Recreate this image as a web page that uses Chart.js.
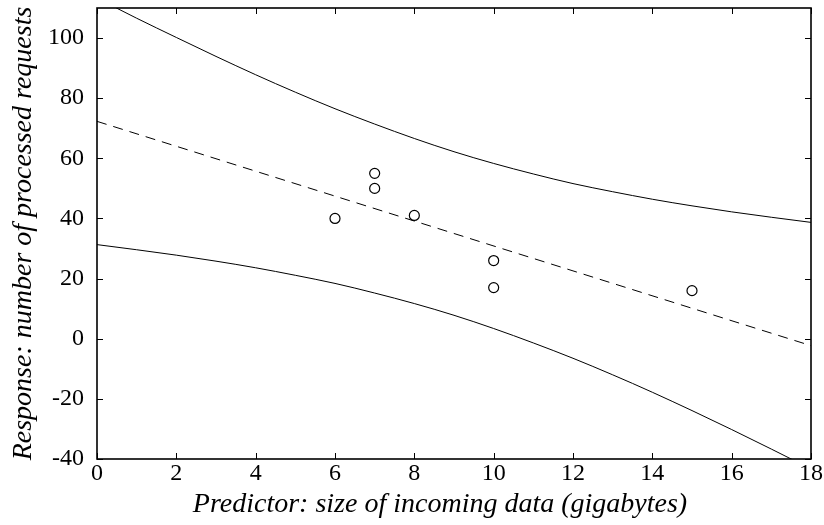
<!DOCTYPE html>
<html>
<head>
<meta charset="utf-8">
<title>Prediction interval</title>
<script src="https://cdn.jsdelivr.net/npm/chart.js@4.4.0/dist/chart.umd.min.js"></script>
<style>
  html, body { margin: 0; padding: 0; background: #fff; }
</style>
</head>
<body>
<canvas id="regressionChart" width="824" height="525"></canvas>
<script>
// observed data
const sizeGb = [6, 7, 7, 8, 10, 10, 15];
const requests = [40, 55, 50, 41, 26, 17, 16];

// fitted line end points
const fitX = [0, 18];
const fitY = [72.3, -2.3];

// 95% prediction band, sampled at each gigabyte
const bandX = [0, 1, 2, 3, 4, 5, 6, 7, 8, 9, 10, 11, 12, 13, 14, 15, 16, 17, 18];
const upperBand = [113.3, 106.6, 100.2, 93.9, 87.8, 82.0, 76.5, 71.4, 66.6, 62.2, 58.3, 54.8, 51.6, 48.9, 46.4, 44.2, 42.2, 40.4, 38.7];
const lowerBand = [31.3, 29.6, 27.8, 25.8, 23.6, 21.1, 18.4, 15.2, 11.7, 7.8, 3.4, -1.4, -6.5, -12.0, -17.8, -23.9, -30.2, -36.7, -43.3];

const xTitle = 'Predictor: size of incoming data (gigabytes)';
const yTitle = 'Response: number of processed requests';

function toPoints(xs, ys) {
    return xs.map((x, i) => ({ x: x, y: ys[i] }));
}

const serif = '"Liberation Serif", "DejaVu Serif", serif';
const tickFont = { family: serif, size: 24 };
const titleFont = { family: serif, size: 28, style: 'italic' };

// box around the plot with small inward ticks on every side
const frameTicks = {
    id: 'frameTicks',
    afterDatasetsDraw(chart) {
        const { ctx, chartArea: a, scales } = chart;
        const len = 6;
        ctx.save();
        ctx.strokeStyle = '#000';
        ctx.lineWidth = 1;
        ctx.beginPath();
        scales.x.ticks.forEach(t => {
            const px = Math.round(scales.x.getPixelForValue(t.value)) + 0.5;
            ctx.moveTo(px, a.bottom); ctx.lineTo(px, a.bottom - len);
            ctx.moveTo(px, a.top); ctx.lineTo(px, a.top + len);
        });
        scales.y.ticks.forEach(t => {
            const py = Math.round(scales.y.getPixelForValue(t.value)) + 0.5;
            ctx.moveTo(a.left, py); ctx.lineTo(a.left + len, py);
            ctx.moveTo(a.right, py); ctx.lineTo(a.right - len, py);
        });
        ctx.stroke();
        ctx.lineWidth = 1.6;
        ctx.strokeRect(a.left, a.top, a.right - a.left, a.bottom - a.top);
        ctx.restore();
    }
};

// x axis caption, sitting a little left of the plot centre
const xCaption = {
    id: 'xCaption',
    afterDraw(chart) {
        const { ctx, chartArea: a } = chart;
        ctx.save();
        ctx.fillStyle = '#000';
        ctx.font = 'italic 28px ' + serif;
        ctx.textAlign = 'center';
        ctx.textBaseline = 'alphabetic';
        ctx.fillText(xTitle, (a.left + a.right) / 2 - 14, a.bottom + 53);
        ctx.restore();
    }
};

const lineStyle = {
    showLine: true,
    pointRadius: 0,
    borderColor: '#000',
    borderWidth: 1,
    fill: false,
    cubicInterpolationMode: 'monotone'
};

new Chart(document.getElementById('regressionChart'), {
    type: 'scatter',
    data: {
        datasets: [
            Object.assign({ label: 'upper', data: toPoints(bandX, upperBand) }, lineStyle),
            Object.assign({ label: 'lower', data: toPoints(bandX, lowerBand) }, lineStyle),
            Object.assign({ label: 'fit', data: toPoints(fitX, fitY), borderDash: [10, 7] }, lineStyle),
            {
                label: 'observed',
                data: toPoints(sizeGb, requests),
                pointRadius: 5,
                pointBorderWidth: 1.2,
                pointBorderColor: '#000',
                pointBackgroundColor: 'rgba(255,255,255,0)',
                showLine: false
            }
        ]
    },
    options: {
        responsive: false,
        animation: false,
        layout: { padding: { top: 8, right: 13, left: 0, bottom: 0 } },
        plugins: {
            legend: { display: false },
            tooltip: { enabled: false }
        },
        scales: {
            x: {
                type: 'linear',
                min: 0,
                max: 18,
                grid: { display: false },
                border: { display: false },
                ticks: { stepSize: 2, color: '#000', font: tickFont, padding: -8, maxRotation: 0 },
                title: { display: false },
                afterFit(scale) {
                    scale.height = 66;
                    scale.paddingLeft = 0;
                    scale.paddingRight = 0;
                }
            },
            y: {
                type: 'linear',
                min: -40,
                max: 110,
                grid: { display: false },
                border: { display: false },
                ticks: { stepSize: 20, includeBounds: false, color: '#000', font: tickFont, padding: 5 },
                title: { display: true, text: yTitle, color: '#000', font: titleFont, padding: { top: 7, bottom: 0 } },
                afterFit(scale) {
                    scale.width = 97;
                    scale.paddingTop = 0;
                    scale.paddingBottom = 0;
                }
            }
        }
    },
    plugins: [frameTicks, xCaption]
});
</script>
</body>
</html>
